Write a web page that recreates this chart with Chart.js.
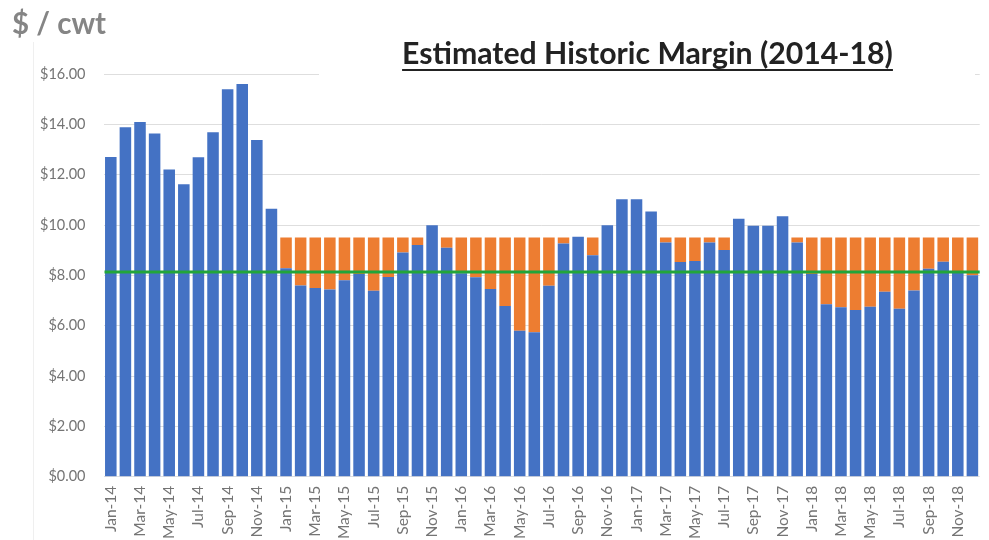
<!DOCTYPE html>
<html><head><meta charset="utf-8">
<script src="https://cdn.jsdelivr.net/npm/chart.js@4.4.1/dist/chart.umd.min.js"></script>
<style>
html,body{margin:0;padding:0;background:#fff;overflow:hidden;width:989px;height:540px;}
#wrap{position:relative;width:1000px;height:540px;}
#c{position:absolute;left:0;top:0;}
#unit{position:absolute;left:12px;top:8px;font-family:Lato,sans-serif;font-weight:700;font-size:29.5px;line-height:29.5px;color:#858585;white-space:nowrap;}
#title{position:absolute;top:38px;font-family:Lato,sans-serif;font-weight:700;font-size:28px;line-height:28px;color:#222;white-space:nowrap;text-decoration:underline;text-decoration-thickness:2px;text-underline-offset:5px;}
#titlebg{position:absolute;left:319px;width:656px;top:68px;height:12px;background:#fff;}
#vline{position:absolute;left:33px;top:42px;width:1px;height:498px;background:#efefef;}
</style></head>
<body>
<div id="wrap">
<canvas id="c" width="1000" height="540"></canvas>
<div id="vline"></div>
<div id="titlebg"></div>
<div id="unit">$ / cwt</div>
<div id="title">Estimated Historic Margin (2014-18)</div>
</div>
<script>
const months = ['Jan','Feb','Mar','Apr','May','Jun','Jul','Aug','Sep','Oct','Nov','Dec'];
const years = ['14','15','16','17','18'];
const categories = [];
years.forEach(y => months.forEach(m => categories.push(m + '-' + y)));

// Estimated margin ($/cwt), Jan-14 .. Dec-18
const margin = [
  12.70, 13.88, 14.09, 13.64, 12.21, 11.62, 12.69, 13.69, 15.39, 15.60, 13.38, 10.65,
   8.28,  7.60,  7.50,  7.44,  7.81,  8.05,  7.39,  7.93,  8.91,  9.21,  9.99,  9.10,
   8.08,  7.92,  7.46,  6.78,  5.80,  5.74,  7.59,  9.27,  9.53,  8.80,  9.99, 11.02,
  11.02, 10.54,  9.31,  8.53,  8.57,  9.31,  9.01, 10.25,  9.97,  9.97, 10.35,  9.31,
   8.05,  6.85,  6.73,  6.62,  6.75,  7.35,  6.67,  7.40,  8.26,  8.54,  8.12,  8.00
];
// Shortfall up to the $9.50 level (orange)
const shortfall = [
  0, 0, 0, 0, 0, 0, 0, 0, 0, 0, 0, 0,
  1.22, 1.90, 2.00, 2.06, 1.69, 1.45, 2.11, 1.57, 0.59, 0.29, 0, 0.40,
  1.42, 1.58, 2.04, 2.72, 3.70, 3.76, 1.91, 0.23, 0, 0.70, 0, 0,
  0, 0, 0.19, 0.97, 0.93, 0.19, 0.49, 0, 0, 0, 0, 0.19,
  1.45, 2.65, 2.77, 2.88, 2.75, 2.15, 2.83, 2.10, 1.24, 0.96, 1.38, 1.50
];
const yTicks = [0, 2, 4, 6, 8, 10, 12, 14, 16];
const averageMargin = 8.13;

const avgLine = {
  id: 'avgLine',
  afterDatasetsDraw(chart) {
    const {ctx, chartArea, scales} = chart;
    const y = scales.y.getPixelForValue(averageMargin);
    ctx.save();
    ctx.strokeStyle = '#22a53a';
    ctx.lineWidth = 3;
    ctx.beginPath();
    ctx.moveTo(chartArea.left + 1, y);
    ctx.lineTo(chartArea.right, y);
    ctx.stroke();
    ctx.restore();
  }
};

new Chart(document.getElementById('c'), {
  type: 'bar',
  data: {
    labels: categories,
    datasets: [
      {label: 'Margin', data: margin, backgroundColor: '#4472c4', borderWidth: 0,
       categoryPercentage: 1, barPercentage: 0.79},
      {label: 'Shortfall', data: shortfall, backgroundColor: '#ed7d31', borderWidth: 0,
       categoryPercentage: 1, barPercentage: 0.79}
    ]
  },
  options: {
    responsive: false,
    animation: false,
    layout: {padding: {top: 74, left: 0, right: 0, bottom: 0}},
    plugins: {legend: {display: false}, tooltip: {enabled: false}, title: {display: false}},
    scales: {
      x: {
        stacked: true,
        grid: {display: false, drawTicks: false},
        border: {display: false},
        ticks: {
          autoSkip: false, minRotation: 90, maxRotation: 90, padding: 9,
          color: '#747474', font: {family: 'Lato', size: 15.5},
          callback: function(v, i) { return i % 2 === 0 ? categories[i] : ''; }
        },
        afterFit: s => { s.height = 63.3; }
      },
      y: {
        stacked: true,
        min: 0, max: 16,
        afterBuildTicks: s => { s.ticks = yTicks.map(v => ({value: v})); },
        grid: {color: '#dedede', lineWidth: 1, drawTicks: false},
        border: {display: false},
        ticks: {
          padding: 18, color: '#747474', font: {family: 'Lato', size: 14.5},
          callback: v => '$' + Number(v).toFixed(2)
        },
        afterFit: s => { s.width = 103.5; }
      }
    }
  },
  plugins: [avgLine]
});

// fit the title to its measured width in the reference
const t = document.getElementById('title');
const w = t.getBoundingClientRect().width;
const target = 491;
t.style.fontSize = (28 * target / w).toFixed(2) + 'px';
const w2 = t.getBoundingClientRect().width;
t.style.left = (647.5 - w2 / 2) + 'px';
</script>
</body></html>
